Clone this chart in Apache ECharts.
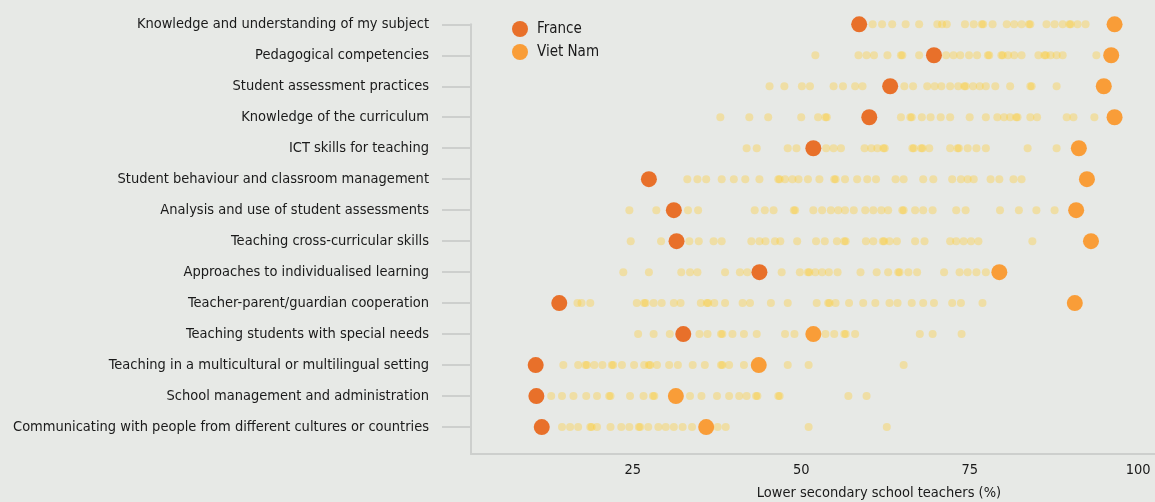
<!DOCTYPE html>
<html>
<head>
<meta charset="utf-8">
<script src="https://cdn.jsdelivr.net/npm/echarts@6/dist/echarts.min.js"></script>
<style>
html,body{margin:0;padding:0;background:#e7e9e6;}
#chart{width:1155px;height:502px;}
</style>
</head>
<body>
<div id="chart"></div>
<script>
const categories = [
  'Knowledge and understanding of my subject',
  'Pedagogical competencies',
  'Student assessment practices',
  'Knowledge of the curriculum',
  'ICT skills for teaching',
  'Student behaviour and classroom management',
  'Analysis and use of student assessments',
  'Teaching cross-curricular skills',
  'Approaches to individualised learning',
  'Teacher-parent/guardian cooperation',
  'Teaching students with special needs',
  'Teaching in a multicultural or multilingual setting',
  'School management and administration',
  'Communicating with people from different cultures or countries'
];
const france  = [58.6, 69.7, 63.2, 60.1, 51.8, 27.4, 31.1, 31.5, 43.8, 14.1, 32.5, 10.6, 10.7, 11.5];
const vietNam = [96.5, 96.0, 94.9, 96.5, 91.2, 92.4, 90.8, 93.0, 79.4, 90.6, 51.8, 43.7, 31.4, 35.9];
const otherCountries = [
  [60.6, 62.0, 63.5, 65.5, 67.5, 70.2, 70.9, 71.6, 74.3, 75.6, 76.8, 77.0, 78.4, 80.5, 81.6, 82.7, 83.8, 84.0, 86.4, 87.6, 88.8, 89.8, 90.0, 91.0, 92.2],
  [52.1, 58.5, 59.7, 60.8, 62.8, 64.8, 65.0, 67.5, 71.5, 72.6, 73.6, 74.9, 76.1, 77.7, 77.9, 79.7, 79.9, 80.7, 81.6, 82.7, 85.2, 86.1, 86.3, 87.0, 87.9, 88.8, 93.8],
  [45.3, 47.5, 50.1, 51.3, 54.8, 56.2, 58.0, 59.1, 65.3, 66.6, 68.7, 69.8, 70.8, 72.1, 73.3, 74.2, 74.4, 75.5, 76.5, 77.4, 78.8, 81.0, 84.0, 84.2, 87.9],
  [38.0, 42.3, 45.1, 50.0, 52.5, 53.6, 53.8, 64.8, 66.2, 66.4, 67.9, 69.2, 70.7, 72.1, 75.0, 77.4, 79.1, 80.1, 81.0, 81.9, 82.1, 84.0, 85.0, 89.4, 90.4, 93.5],
  [41.9, 43.4, 48.0, 49.3, 53.7, 54.8, 55.9, 59.4, 60.4, 61.3, 62.2, 62.4, 66.5, 66.7, 67.8, 68.0, 69.0, 72.1, 73.2, 73.4, 74.7, 76.0, 77.4, 83.6, 87.9],
  [33.1, 34.6, 35.9, 38.2, 40.0, 41.7, 43.8, 46.6, 46.8, 47.6, 48.7, 49.6, 51.0, 52.7, 54.9, 55.1, 56.5, 58.3, 59.8, 61.1, 64.0, 65.2, 68.1, 69.6, 72.4, 73.7, 74.7, 75.6, 78.1, 79.4, 81.5, 82.7],
  [24.5, 28.5, 33.2, 34.7, 43.1, 44.6, 45.9, 48.9, 49.1, 51.8, 53.1, 54.4, 55.5, 56.5, 57.8, 59.5, 60.7, 61.9, 62.9, 65.0, 65.2, 66.9, 68.1, 69.5, 73.0, 74.4, 79.5, 82.3, 84.9, 87.6],
  [24.7, 29.2, 33.4, 34.8, 37.0, 38.2, 42.6, 43.8, 44.7, 46.1, 46.9, 49.4, 52.2, 53.5, 55.3, 56.4, 56.6, 59.6, 60.7, 62.1, 62.3, 63.1, 64.2, 66.9, 68.3, 72.1, 73.0, 74.1, 75.2, 76.3, 84.3],
  [23.6, 27.4, 32.2, 33.5, 34.6, 38.7, 40.9, 42.0, 47.1, 49.8, 51.0, 51.2, 52.1, 53.1, 54.1, 55.4, 58.8, 61.2, 62.9, 64.4, 64.6, 65.9, 67.2, 71.2, 73.5, 74.7, 76.0, 77.4],
  [16.8, 17.4, 18.7, 25.6, 26.7, 26.9, 28.1, 29.3, 31.1, 32.1, 35.1, 36.0, 36.2, 37.1, 38.7, 41.3, 42.4, 45.5, 48.0, 52.3, 54.0, 54.2, 55.1, 57.1, 59.2, 61.0, 63.1, 64.3, 66.4, 68.1, 69.7, 72.4, 73.7, 76.9],
  [25.8, 28.1, 30.5, 34.9, 36.1, 38.1, 38.3, 39.8, 41.5, 43.4, 47.6, 49.0, 53.6, 54.9, 56.4, 56.6, 58.0, 67.6, 69.5, 73.8],
  [14.7, 16.9, 18.0, 18.2, 19.3, 20.5, 21.9, 22.1, 23.4, 25.2, 26.7, 27.4, 27.6, 28.6, 30.4, 31.7, 33.9, 35.7, 38.1, 38.3, 39.3, 41.5, 48.0, 51.1, 65.2],
  [12.9, 14.5, 16.2, 18.1, 19.7, 21.5, 21.7, 24.6, 26.6, 28.0, 28.2, 33.5, 35.2, 37.5, 39.3, 40.8, 41.9, 43.3, 43.5, 46.6, 46.8, 57.0, 59.7],
  [14.5, 15.7, 16.9, 18.7, 18.9, 19.7, 21.7, 23.3, 24.5, 25.9, 26.1, 27.3, 28.8, 29.9, 31.1, 32.4, 33.8, 37.6, 38.8, 51.1, 62.7]
];
const xTickValues = [25, 50, 75, 100];
const xAxisTitle = 'Lower secondary school teachers (%)';

const FONT = "'DejaVu Sans Condensed', sans-serif";
const FS = 14.5;
const rowIdx = categories.map((c, i) => i);

const othersData = [];
otherCountries.forEach((row, i) => row.forEach(v => othersData.push([v, i])));

const chart = echarts.init(document.getElementById('chart'), null, {renderer: 'canvas'});
chart.setOption({
  backgroundColor: '#e7e9e6',
  animation: false,
  textStyle: {fontFamily: FONT},
  grid: {left: 471, right: 0, top: 24.3, bottom: 48, containLabel: false, outerBoundsMode: 'none'},
  legend: {
    data: ['France', 'Viet Nam'],
    orient: 'vertical',
    left: 507, top: 16,
    icon: 'circle', itemWidth: 16, itemHeight: 16, itemGap: 7,
    textStyle: {fontFamily: FONT, fontSize: 15, color: '#1a1a1a', padding: [0, 0, 0, 4]}
  },
  xAxis: {
    type: 'value', min: 1, max: 102.5,
    axisLine: {show: true, onZero: false, lineStyle: {color: '#cdcfcd', width: 2}},
    axisTick: {show: false},
    splitLine: {show: false},
    axisLabel: {customValues: xTickValues, margin: 9, fontFamily: FONT, fontSize: FS, color: '#1a1a1a'}
  },
  yAxis: {
    type: 'value', inverse: true, min: 0, max: 13.87,
    axisLine: {show: true, onZero: false, lineStyle: {color: '#cdcfcd', width: 2}},
    axisTick: {show: true, customValues: rowIdx, length: 29, lineStyle: {color: '#cdcfcd', width: 2}},
    splitLine: {show: false},
    axisLabel: {
      customValues: rowIdx, margin: 42, fontFamily: FONT, fontSize: FS, color: '#1a1a1a',
      formatter: v => categories[Math.round(v)]
    }
  },
  graphic: [{
    type: 'text', x: 879, y: 493,
    style: {text: xAxisTitle, font: FS + "px " + FONT, fill: '#1a1a1a', align: 'center', verticalAlign: 'middle'}
  }],
  series: [
    {
      name: 'Other countries', type: 'scatter', symbolSize: 8, silent: true,
      itemStyle: {color: 'rgb(255,204,44)', opacity: 0.35},
      data: othersData, z: 1
    },
    {
      name: 'France', type: 'scatter', symbolSize: 16,
      itemStyle: {color: '#e8702a', opacity: 1},
      data: france.map((v, i) => [v, i]), z: 3
    },
    {
      name: 'Viet Nam', type: 'scatter', symbolSize: 16,
      itemStyle: {color: '#f99d38', opacity: 1},
      data: vietNam.map((v, i) => [v, i]), z: 4
    }
  ]
});
</script>
</body>
</html>
